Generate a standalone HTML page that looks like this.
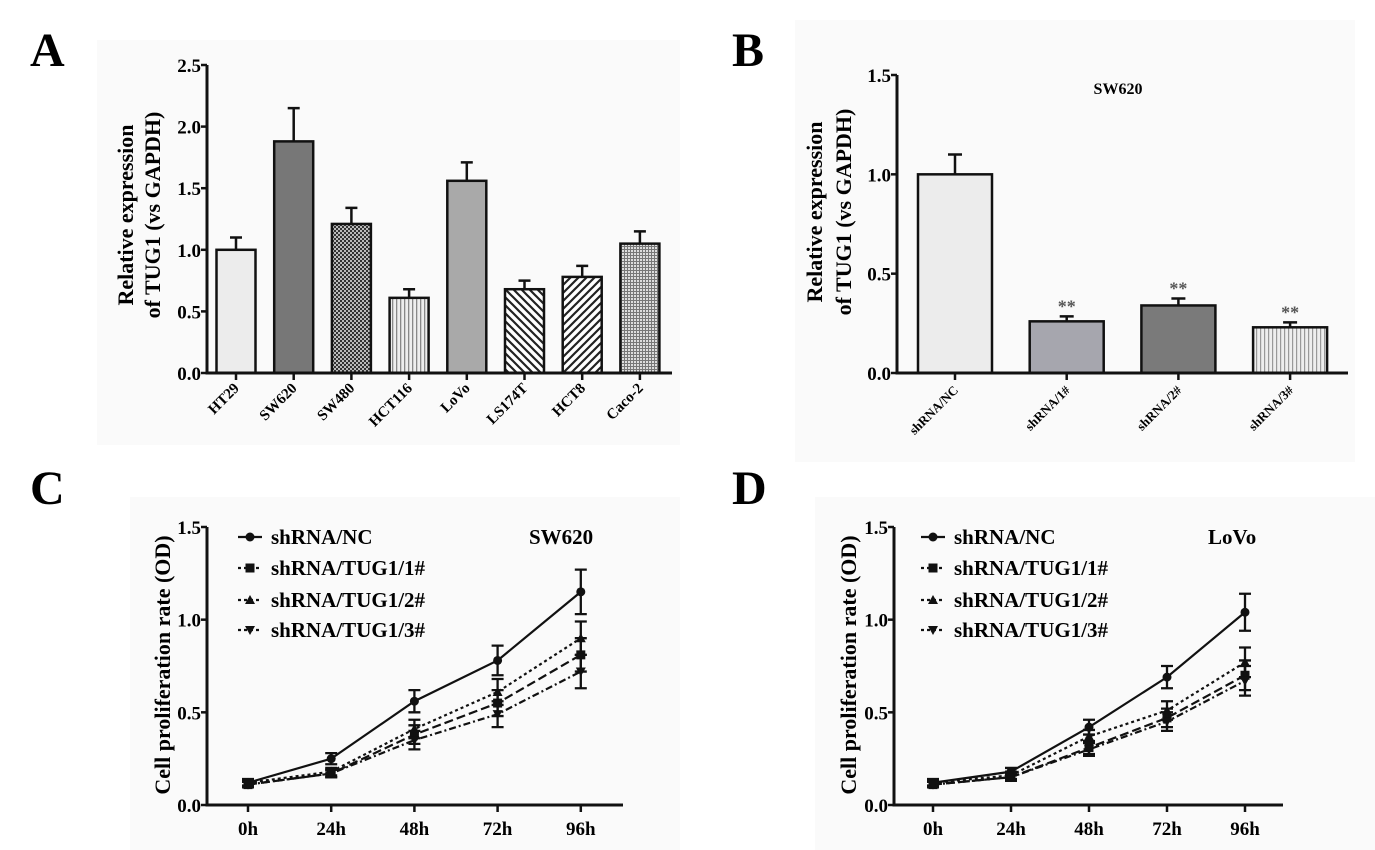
<!DOCTYPE html>
<html><head><meta charset="utf-8"><style>
html,body{margin:0;padding:0;background:#fff;}
svg{display:block;font-family:"Liberation Serif",serif;font-weight:bold;}
</style></head><body>
<svg id="fig" width="1375" height="850" viewBox="0 0 1375 850" xmlns="http://www.w3.org/2000/svg">
<defs>
<pattern id="pCheck" width="4" height="4" patternUnits="userSpaceOnUse"><rect width="4" height="4" fill="#bbb"/><rect width="2" height="2" fill="#333"/><rect x="2" y="2" width="2" height="2" fill="#333"/></pattern>
<pattern id="pVert" width="4" height="4" patternUnits="userSpaceOnUse"><rect width="4" height="4" fill="#eee"/><rect width="1.3" height="4" fill="#888"/></pattern>
<pattern id="pBack" width="8" height="8" patternUnits="userSpaceOnUse"><rect width="8" height="8" fill="#fff"/><path d="M-2,-2 L10,10 M-2,6 L2,10 M6,-2 L10,2" stroke="#222" stroke-width="2.2"/></pattern>
<pattern id="pFwd" width="8" height="8" patternUnits="userSpaceOnUse"><rect width="8" height="8" fill="#fff"/><path d="M-2,10 L10,-2 M-2,2 L2,-2 M6,10 L10,6" stroke="#222" stroke-width="2.2"/></pattern>
<pattern id="pGrid" width="3" height="3" patternUnits="userSpaceOnUse"><rect width="3" height="3" fill="#ddd"/><rect width="3" height="1" fill="#777"/><rect width="1" height="3" fill="#777"/></pattern>
<pattern id="pVertB" width="4" height="4" patternUnits="userSpaceOnUse"><rect width="4" height="4" fill="#eee"/><rect width="1.2" height="4" fill="#999"/></pattern>
</defs>
<rect x="97" y="40" width="583" height="405" fill="#fafafa"/>
<rect x="795" y="20" width="560" height="442" fill="#fafafa"/>
<rect x="130" y="497" width="550" height="353" fill="#fafafa"/>
<rect x="815" y="497" width="560" height="353" fill="#fafafa"/>
<text x="30" y="66" font-size="48">A</text>
<text x="732" y="66" font-size="48">B</text>
<text x="30" y="504" font-size="48">C</text>
<text x="732" y="504" font-size="48">D</text>
<g id="gA"></g>
<g id="gB"></g>
<g id="gC"></g>
<g id="gD"></g>
</svg>
<script>
// Panel A data
const aCategories = ["HT29","SW620","SW480","HCT116","LoVo","LS174T","HCT8","Caco-2"];
const aValues = [1.0,1.88,1.21,0.61,1.56,0.68,0.78,1.05];
const aErrors = [0.1,0.27,0.13,0.07,0.15,0.07,0.09,0.1];
const aTicks = ["0.0","0.5","1.0","1.5","2.0","2.5"];
// Panel B data
const bCategories = ["shRNA/NC","shRNA/1#","shRNA/2#","shRNA/3#"];
const bValues = [1.0,0.26,0.34,0.23];
const bErrors = [0.1,0.025,0.035,0.025];
const bStars = ["","**","**","**"];
const bTicks = ["0.0","0.5","1.0","1.5"];
// Panels C/D data
const timeLabels = ["0h","24h","48h","72h","96h"];
const lineTicks = ["0.0","0.5","1.0","1.5"];
const seriesNames = ["shRNA/NC","shRNA/TUG1/1#","shRNA/TUG1/2#","shRNA/TUG1/3#"];
const cNC = [0.12,0.25,0.56,0.78,1.15];
const cT1 = [0.11,0.17,0.38,0.55,0.81];
const cT2 = [0.12,0.18,0.41,0.61,0.90];
const cT3 = [0.11,0.17,0.35,0.49,0.72];
const cErrNC = [0.02,0.03,0.06,0.08,0.12];
const cErrT = [0.015,0.02,0.05,0.07,0.09];
const dNC = [0.12,0.18,0.42,0.69,1.04];
const dT1 = [0.11,0.15,0.31,0.47,0.70];
const dT2 = [0.12,0.16,0.37,0.51,0.77];
const dT3 = [0.11,0.15,0.30,0.45,0.67];
const dErrNC = [0.02,0.02,0.04,0.06,0.10];
const dErrT = [0.015,0.02,0.035,0.05,0.08];

const NS="http://www.w3.org/2000/svg";
function mk(parent,tag,attrs,text){const e=document.createElementNS(NS,tag);for(const k in attrs)e.setAttribute(k,attrs[k]);if(text!==undefined)e.textContent=text;parent.appendChild(e);return e;}

function yAxis(g,x,y0,yTop,ticks,maxV,fs){
  const ys=v=>y0-(v/maxV)*(y0-yTop);
  const ax=mk(g,"line",{x1:x,y1:yTop,x2:x,y2:y0+1.5,stroke:"#111","stroke-width":3});
  
  
  ticks.forEach(t=>{const v=parseFloat(t);const y=ys(v);
    const tk=mk(g,"line",{x1:x-6,y1:y,x2:x,y2:y,stroke:"#111","stroke-width":2.5});
    
    
    const tl=mk(g,"text",{x:x-6,y:y+7,"text-anchor":"end","font-size":fs},t);
    
    
  });
  return ys;
}
function xAxisLine(g,x1,x2,y){
  const l=mk(g,"line",{x1:x1,y1:y,x2:x2,y2:y,stroke:"#111","stroke-width":3});
  
  
}
function yTitle(g,cx,cy,lines,fs,gap){
  lines.forEach((s,i)=>{const x=cx+i*gap;
    const t=mk(g,"text",{x:x,y:cy,"text-anchor":"middle","font-size":fs,transform:`rotate(-90 ${x} ${cy})`},s);
    
    
  });
}
function errBar(g,x,yv,ye,cap){
  const l=mk(g,"path",{d:`M${x},${yv} V${ye} M${x-cap},${ye} H${x+cap}`,stroke:"#111","stroke-width":2.5,fill:"none"});
  
  
}

// ---- Panel A ----
(function(){
  const g=document.getElementById("gA");
  const ax=207,y0=373,yTop=65,x0=236,step=57.7,bw=39;
  const ys=yAxis(g,ax,y0,yTop,aTicks,2.5,19);
  const fills=["#ececec","#777","url(#pCheck)","url(#pVert)","#a9a9a9","url(#pBack)","url(#pFwd)","url(#pGrid)"];
  aCategories.forEach((c,i)=>{const cx=x0+i*step;const yv=ys(aValues[i]);
    errBar(g,cx,yv,ys(aValues[i]+aErrors[i]),6);
    const r=mk(g,"rect",{x:cx-bw/2,y:yv,width:bw,height:y0-yv,fill:fills[i],stroke:"#111","stroke-width":2.5});
    
    
    const tk=mk(g,"line",{x1:cx,y1:y0,x2:cx,y2:y0+7,stroke:"#111","stroke-width":2.5});
    
    
    const tl=mk(g,"text",{x:cx+4,y:y0+16,"text-anchor":"end","font-size":15,transform:`rotate(-45 ${cx+4} ${y0+16})`},c);
    
    
  });
  xAxisLine(g,ax,672,y0);
  yTitle(g,133,215,["Relative expression","of TUG1 (vs GAPDH)"],22,27);
})();

// ---- Panel B ----
(function(){
  const g=document.getElementById("gB");
  const ax=897,y0=373,yTop=75,x0=955,step=111.7,bw=74;
  const ys=yAxis(g,ax,y0,yTop,bTicks,1.5,19);
  const fills=["#ececec","#a6a6ae","#7a7a7a","url(#pVertB)"];
  bCategories.forEach((c,i)=>{const cx=x0+i*step;const yv=ys(bValues[i]);const ye=ys(bValues[i]+bErrors[i]);
    errBar(g,cx,yv,ye,7);
    const r=mk(g,"rect",{x:cx-bw/2,y:yv,width:bw,height:y0-yv,fill:fills[i],stroke:"#111","stroke-width":2.5});
    
    
    if(bStars[i]){const s=mk(g,"text",{x:cx,y:ye-4,"text-anchor":"middle","font-size":18,fill:"#555"},bStars[i]);
      
      }
    const tk=mk(g,"line",{x1:cx,y1:y0,x2:cx,y2:y0+7,stroke:"#111","stroke-width":2.5});
    
    
    const tl=mk(g,"text",{x:cx+4,y:y0+18,"text-anchor":"end","font-size":13,transform:`rotate(-45 ${cx+4} ${y0+18})`},c);
    
    
  });
  xAxisLine(g,ax,1348,y0);
  yTitle(g,822,212,["Relative expression","of TUG1 (vs GAPDH)"],22,29);
  const t=mk(g,"text",{x:1118,y:94,"text-anchor":"middle","font-size":16},"SW620");
  
  
})();

// ---- Line panels ----
function marker(g,type,x,y){
  let e;
  if(type===0) e=mk(g,"circle",{cx:x,cy:y,r:4.5,fill:"#111"});
  else if(type===1) e=mk(g,"rect",{x:x-4.5,y:y-4.5,width:9,height:9,fill:"#111"});
  else if(type===2) e=mk(g,"path",{d:`M${x},${y-5} L${x+5},${y+4} L${x-5},${y+4}Z`,fill:"#111"});
  else e=mk(g,"path",{d:`M${x},${y+5} L${x+5},${y-4} L${x-5},${y-4}Z`,fill:"#111"});
  return e;
}
const dashes=["none","9,4","3,3","7,3,2,3"];
function linePanel(gid,ax,axEnd,x0,step,series,errs,label,labelX,legX,titleX){
  const g=document.getElementById(gid);
  const y0=805,yTop=527;
  const ys=yAxis(g,ax,y0,yTop,lineTicks,1.5,19);
  xAxisLine(g,ax,axEnd,y0);
  timeLabels.forEach((t,i)=>{const x=x0+i*step;
    const tk=mk(g,"line",{x1:x,y1:y0,x2:x,y2:y0+7,stroke:"#111","stroke-width":2.5});
    
    
    const tl=mk(g,"text",{x:x,y:y0+30,"text-anchor":"middle","font-size":19},t);
    
    
  });
  series.forEach((vals,si)=>{
    const pts=vals.map((v,i)=>`${x0+i*step},${ys(v)}`).join(" ");
    const pl=mk(g,"polyline",{points:pts,fill:"none",stroke:"#111","stroke-width":2.2,"stroke-dasharray":dashes[si]});
    
    
    vals.forEach((v,i)=>{const x=x0+i*step;const e=errs[si][i];
      const eb=mk(g,"path",{d:`M${x},${ys(v-e)} V${ys(v+e)} M${x-6},${ys(v-e)} H${x+6} M${x-6},${ys(v+e)} H${x+6}`,stroke:"#111","stroke-width":2.3,fill:"none"});
      
      
      const m=marker(g,si,x,ys(v));
      
      
    });
  });
  const legY=[537,568,600,630];
  seriesNames.forEach((n,si)=>{const y=legY[si];
    const l=mk(g,"line",{x1:legX-12,y1:y,x2:legX+12,y2:y,stroke:"#111","stroke-width":2.2,"stroke-dasharray":si===0?"none":"3,3"});
    
    
    const m=marker(g,si,legX,y);
    
    
    const t=mk(g,"text",{x:legX+21,y:y+7,"font-size":21},n);
    
    
  });
  const lt=mk(g,"text",{x:labelX,y:544,"font-size":21},label);
  
  
  yTitle(g,titleX,665,["Cell proliferation rate (OD)"],22,0);
}
linePanel("gC",207,623,248,83.2,[cNC,cT1,cT2,cT3],[cErrNC,cErrT,cErrT,cErrT],"SW620",529,250,170);
linePanel("gD",894,1283,933,78,[dNC,dT1,dT2,dT3],[dErrNC,dErrT,dErrT,dErrT],"LoVo",1208,933,856);
</script>
</body></html>
